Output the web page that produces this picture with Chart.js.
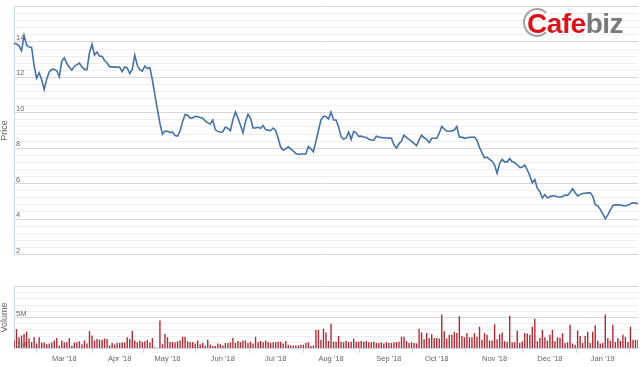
<!DOCTYPE html>
<html><head><meta charset="utf-8">
<script src="https://cdn.jsdelivr.net/npm/chart.js@4.4.1/dist/chart.umd.min.js"></script>
<style>
html,body{margin:0;padding:0;background:#fff;}
#wrap{position:relative;width:640px;height:367px;overflow:hidden;background:#fff;}
#c1{position:absolute;left:0;top:0;}
#c2{position:absolute;left:0;top:280px;}
#ring{position:absolute;left:523px;top:8px;width:24px;height:25px;border:2px solid #a3a3a3;border-right-color:transparent;border-radius:50%;}
#logo{position:absolute;left:527px;top:10px;font:bold 28px "Liberation Sans",Arial,sans-serif;line-height:28px;letter-spacing:-0.5px;white-space:nowrap;}
</style></head><body>
<div id="wrap">
<canvas id="c1" width="640" height="261"></canvas>
<canvas id="c2" width="640" height="87"></canvas>
<div id="ring"></div>
<div id="logo"><span style="color:#d7141b">Cafe</span><span style="color:#7a7a7a">biz</span></div>
</div>
<script>
// trading calendar (categories)
const startDate = '2018-01-25';
const endDate = '2019-01-22';
const holidays = ['2018-02-14','2018-02-15','2018-02-16','2018-02-19','2018-02-20','2018-04-25','2018-04-30','2018-05-01','2018-09-03','2019-01-01'];
const tickMonths = ['2018-03','2018-04','2018-05','2018-06','2018-07','2018-08','2018-09','2018-10','2018-11','2018-12','2019-01'];
const tickLabels = ["Mar '18","Apr '18","May '18","Jun '18","Jul '18","Aug '18","Sep '18","Oct '18","Nov '18","Dec '18","Jan '19"];
const priceLabels = [2,4,6,8,10,12,14];
const volumeLabels = {0:'0M',5:'5M'};

const price = [13.92,13.88,13.78,13.5,14.37,13.82,13.71,13.7,12.65,11.95,
12.26,11.86,11.32,11.9,12.3,12.45,12.45,12.37,12.04,12.92,
13.1,12.78,12.57,12.41,12.62,12.72,12.81,12.59,12.45,12.44,
13.4,13.86,13.26,13.44,13.19,13.19,12.95,12.81,12.6,12.59,
12.58,12.58,12.57,12.32,12.59,12.53,12.22,12.45,13.26,12.68,
12.44,12.35,12.64,12.5,12.55,11.85,11.0,10.2,9.4,8.79,
8.97,8.95,8.89,8.91,8.72,8.68,8.97,9.5,9.9,9.86,
9.7,9.71,9.8,9.78,9.73,9.69,9.54,9.43,9.37,9.59,
9.05,8.95,8.9,8.93,9.19,9.12,8.99,9.6,10.04,9.7,
9.3,8.87,9.5,9.92,9.7,9.14,9.14,9.18,9.12,9.28,
9.05,9.02,8.99,9.14,9.0,8.55,8.05,7.9,7.96,8.08,
7.96,7.84,7.7,7.66,7.67,7.67,7.68,8.1,7.96,7.8,
8.4,9.0,9.6,9.8,9.79,9.65,10.04,9.6,9.59,9.2,
8.65,8.5,8.58,8.92,8.5,8.95,8.87,8.67,8.68,8.63,
8.6,8.51,8.46,8.45,8.68,8.63,8.6,8.59,8.58,8.57,
8.56,8.2,8.01,8.25,8.41,8.74,8.6,8.5,8.38,8.27,
8.14,8.47,8.74,8.59,8.5,8.32,8.56,8.56,8.56,8.85,
9.23,9.08,8.97,8.96,8.98,9.03,9.23,8.62,8.63,8.56,
8.59,8.61,8.62,8.63,8.45,8.05,7.75,7.45,7.5,7.37,
7.27,7.05,6.59,7.14,7.37,7.23,7.23,7.41,7.23,7.19,
7.05,6.92,6.93,7.05,6.77,6.45,6.05,6.23,5.73,5.55,
5.19,5.38,5.19,5.27,5.31,5.3,5.26,5.23,5.28,5.35,
5.34,5.5,5.72,5.5,5.3,5.38,5.44,5.46,5.48,5.48,
5.3,4.81,4.74,4.55,4.29,4.02,4.24,4.5,4.77,4.8,
4.81,4.79,4.76,4.75,4.78,4.87,4.92,4.9,4.87];

// volume in millions of shares
const volume = [1.3,3.1,1.8,2.1,2.35,2.75,1.6,1.05,1.8,0.8,
1.8,0.95,0.95,0.7,0.8,0.95,1.3,1.7,0.5,1.3,
0.95,1.05,1.7,0.5,0.95,1.0,1.15,0.7,1.3,0.8,
2.85,2.1,1.3,1.55,1.4,1.4,1.6,1.55,0.5,0.9,
0.65,0.9,0.9,1.0,0.95,1.8,1.55,2.85,1.3,1.0,
1.3,1.05,1.15,1.4,0.95,1.7,0.2,0.1,4.5,0.7,
2.35,1.8,1.05,1.05,0.95,1.15,1.3,1.9,1.9,1.15,
1.05,1.05,0.8,1.3,0.7,0.9,0.5,1.4,0.65,0.4,
0.4,0.8,0.7,0.5,0.9,0.9,1.0,1.7,0.9,1.2,
1.0,1.3,1.3,0.9,1.1,0.8,1.9,1.0,1.2,1.0,
1.3,1.1,0.9,1.0,1.0,1.1,1.1,0.8,1.2,0.6,
0.5,0.5,0.5,0.5,0.6,0.6,0.9,1.0,0.4,0.5,
3.0,3.0,1.4,3.2,2.6,1.2,4.0,1.1,1.1,2.0,
1.1,1.0,1.2,1.0,1.1,1.6,1.1,1.1,1.2,1.1,
1.2,1.0,1.0,1.1,0.9,0.9,1.0,0.8,1.0,0.9,
0.9,1.0,1.0,1.1,1.9,1.9,1.2,0.9,1.0,0.9,
0.8,3.2,2.6,1.5,2.5,1.7,2.3,1.7,1.7,1.6,
5.5,2.8,1.6,2.2,2.2,2.7,2.5,5.2,2.0,1.8,
2.5,1.8,1.8,2.5,1.9,3.5,1.4,2.5,2.2,1.3,
1.3,3.9,1.5,2.3,2.6,1.15,1.05,5.3,1.0,1.0,
2.9,0.9,1.15,2.5,2.4,2.2,3.5,4.8,1.15,1.7,
3.0,1.8,1.25,2.2,3.0,1.15,1.8,1.75,2.45,0.9,
1.0,3.85,0.8,0.6,2.9,2.0,0.9,2.0,2.7,0.9,
2.7,3.75,1.25,0.8,0.9,5.5,1.7,1.25,3.85,1.05,
1.7,1.25,2.2,1.9,1.05,3.5,1.4,1.4,1.4];

// build trading-day categories
const dates = [];
(function(){
  const hs = new Set(holidays);
  let t = Date.parse(startDate + 'T00:00:00Z');
  const end = Date.parse(endDate + 'T00:00:00Z');
  while (t <= end) {
    const d = new Date(t);
    const wd = d.getUTCDay();
    const iso = d.toISOString().slice(0,10);
    if (wd !== 0 && wd !== 6 && !hs.has(iso)) dates.push(iso);
    t += 86400000;
  }
})();
const monthTickIdx = tickMonths.map(m => dates.findIndex(d => d.startsWith(m)));

const FONT = '"Liberation Sans", Arial, sans-serif';
const near = (a,b) => Math.abs(a-b) < 1e-6;
const priceGrid = [];
for (let v = 2; v <= 16.0001; v += 0.4) priceGrid.push(Math.round(v*10)/10);
const volGrid = [0,1,2,3,4,5,6,7,8,9,10];
const labelFont = { size: 7.5, family: FONT };

new Chart(document.getElementById('c1'), {
  type: 'line',
  data: { labels: dates, datasets: [{ data: price, borderColor: '#4572a7', borderWidth: 1.6, pointRadius: 0, tension: 0, fill: false }] },
  options: {
    responsive: false, animation: false, devicePixelRatio: 1,
    layout: { padding: { top: 2.3, right: 2, bottom: 1.7, left: 0 } },
    plugins: { legend: { display: false }, tooltip: { enabled: false } },
    scales: {
      x: { display: false, offset: false },
      y: {
        min: 2, max: 16,
        afterBuildTicks: s => { s.ticks = priceGrid.map(v => ({ value: v })); },
        afterFit: s => { s.width = 14; },
        ticks: {
          autoSkip: false, mirror: true, padding: 2, labelOffset: -4, color: '#666666', font: labelFont, z: 1,
          callback: v => priceLabels.some(p => near(p, v)) ? String(Math.round(v)) : ''
        },
        grid: { drawTicks: false, color: c => priceLabels.concat([16]).some(p => near(p, c.tick.value)) ? '#d8d8d8' : '#efefef' },
        border: { display: true, color: '#ccd6eb', width: 1 },
        title: { display: true, text: 'Price', color: '#666666', font: { size: 9, family: FONT, lineHeight: 1 }, padding: 0 }
      }
    }
  }
});

new Chart(document.getElementById('c2'), {
  type: 'bar',
  data: { labels: dates, datasets: [{ data: volume, backgroundColor: '#ad2a34', barPercentage: 0.55, categoryPercentage: 1 }] },
  options: {
    responsive: false, animation: false, devicePixelRatio: 1,
    layout: { padding: { top: 3.5, right: 2, bottom: 0, left: 0 } },
    plugins: { legend: { display: false }, tooltip: { enabled: false } },
    scales: {
      x: {
        offset: false,
        afterBuildTicks: s => { s.ticks = monthTickIdx.map(i => ({ value: i })); },
        afterFit: s => { s.height = 18.5; },
        ticks: { autoSkip: false, maxRotation: 0, minRotation: 0, padding: 2, color: '#666666', font: labelFont,
          callback: (v, i) => tickLabels[i] },
        grid: { drawOnChartArea: false, drawTicks: true, tickLength: 4, tickColor: '#ccd6eb', color: '#ccd6eb' },
        border: { display: true, color: '#ccd6eb' }
      },
      y: {
        min: 0, max: 10,
        afterBuildTicks: s => { s.ticks = volGrid.map(v => ({ value: v })); },
        afterFit: s => { s.width = 14; },
        ticks: { autoSkip: false, mirror: true, padding: 2, labelOffset: -4, color: '#666666', font: labelFont, z: 1,
          callback: v => volumeLabels[v] !== undefined ? volumeLabels[v] : '' },
        grid: { drawTicks: false, color: c => (c.tick.value % 5 === 0) ? '#d8d8d8' : '#efefef' },
        border: { display: true, color: '#ccd6eb', width: 1 },
        title: { display: true, text: 'Volume', color: '#666666', font: { size: 9, family: FONT, lineHeight: 1 }, padding: 0 }
      }
    }
  }
});
</script>
</body></html>
